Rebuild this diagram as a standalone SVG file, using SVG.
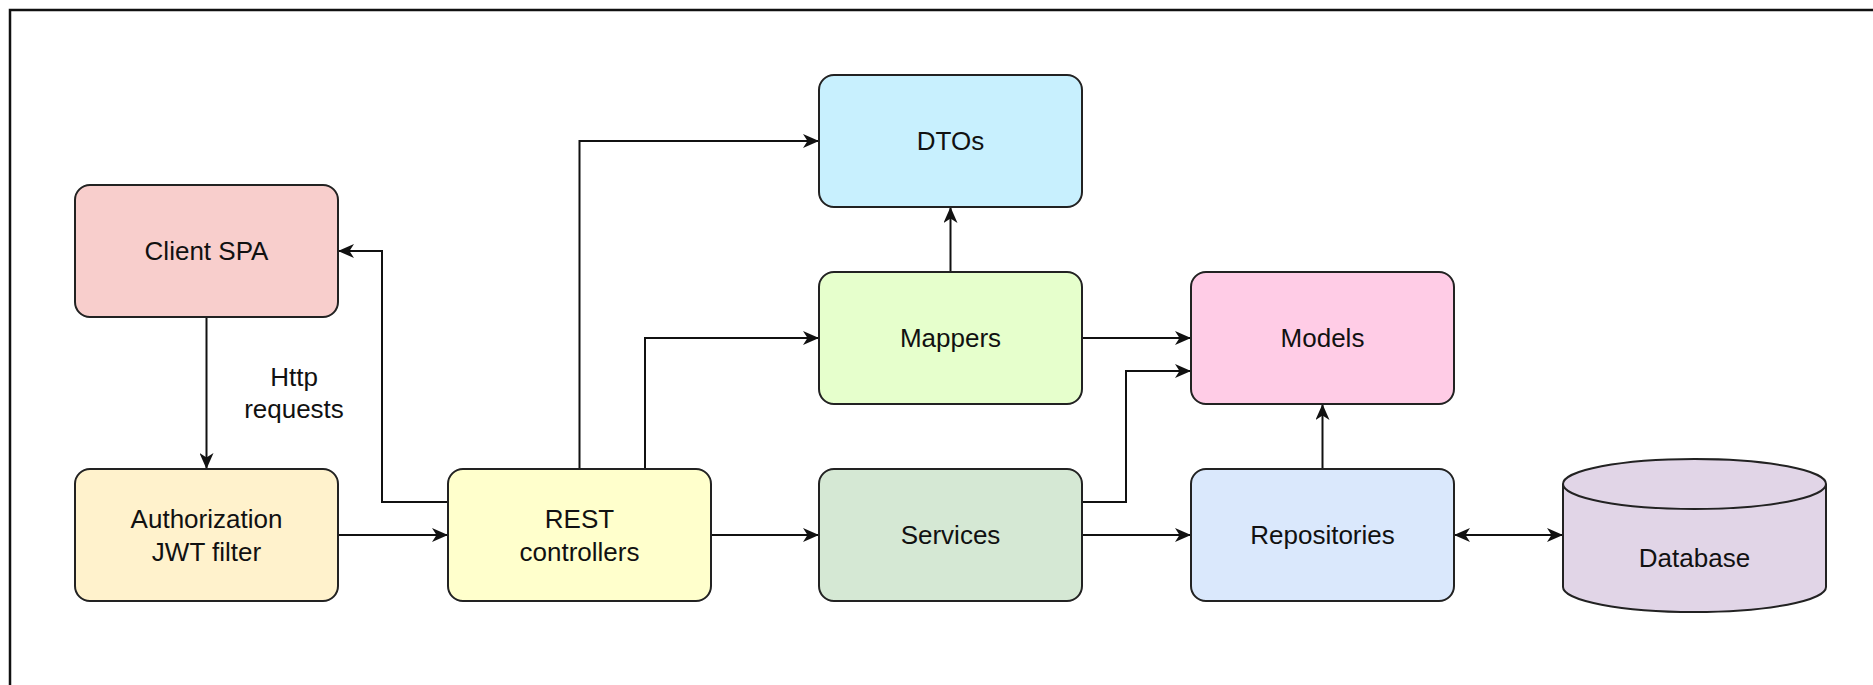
<svg xmlns="http://www.w3.org/2000/svg" width="1873" height="685" viewBox="0 0 1873 685">
<style>
.node{stroke:#222;stroke-width:2}
.lbl{font-family:"Liberation Sans",Arial,Helvetica,sans-serif;font-size:26px;fill:#111;text-anchor:middle}
.edge{fill:none;stroke:#111;stroke-width:2}
</style>
<defs>
<marker id="arr" viewBox="0 0 16 14" refX="16" refY="7" markerWidth="16" markerHeight="14" markerUnits="userSpaceOnUse" orient="auto-start-reverse">
<path d="M0,0 L16,7 L0,14 L4.5,7 Z" fill="#111"/>
</marker>
</defs>
<rect width="1873" height="685" fill="#fff"/>
<rect x="10" y="10" width="1900" height="720" fill="none" stroke="#111" stroke-width="2.5"/>
<g id="connectors">
<path class="edge" d="M206.5,317 L206.5,469" marker-end="url(#arr)"/>
<path class="edge" d="M338,535 L448,535" marker-end="url(#arr)"/>
<path class="edge" d="M448,502 L382,502 L382,251 L338,251" marker-end="url(#arr)"/>
<path class="edge" d="M579.5,469 L579.5,141 L819,141" marker-end="url(#arr)"/>
<path class="edge" d="M645,469 L645,338 L819,338" marker-end="url(#arr)"/>
<path class="edge" d="M711,535 L819,535" marker-end="url(#arr)"/>
<path class="edge" d="M950.5,272 L950.5,207" marker-end="url(#arr)"/>
<path class="edge" d="M1082,338 L1191,338" marker-end="url(#arr)"/>
<path class="edge" d="M1082,502 L1126,502 L1126,371 L1191,371" marker-end="url(#arr)"/>
<path class="edge" d="M1082,535 L1191,535" marker-end="url(#arr)"/>
<path class="edge" d="M1322.5,469 L1322.5,404" marker-end="url(#arr)"/>
<path class="edge" d="M1454,535 L1563,535" marker-start="url(#arr)" marker-end="url(#arr)"/>
<text class="lbl" x="294" y="386">Http</text>
<text class="lbl" x="294" y="418">requests</text>
</g>
<g id="client-spa">
<rect class="node" x="75" y="185" width="263" height="132" rx="15" fill="#f8cecc"/>
<text class="lbl" x="206.5" y="260">Client SPA</text>
</g>
<g id="auth-filter">
<rect class="node" x="75" y="469" width="263" height="132" rx="15" fill="#fff2cc"/>
<text class="lbl" x="206.5" y="528">Authorization</text>
<text class="lbl" x="206.5" y="561">JWT filter</text>
</g>
<g id="rest-controllers">
<rect class="node" x="448" y="469" width="263" height="132" rx="15" fill="#ffffcc"/>
<text class="lbl" x="579.5" y="528">REST</text>
<text class="lbl" x="579.5" y="561">controllers</text>
</g>
<g id="dtos">
<rect class="node" x="819" y="75" width="263" height="132" rx="15" fill="#c8f0fe"/>
<text class="lbl" x="950.5" y="150">DTOs</text>
</g>
<g id="mappers">
<rect class="node" x="819" y="272" width="263" height="132" rx="15" fill="#e6ffcc"/>
<text class="lbl" x="950.5" y="347">Mappers</text>
</g>
<g id="services">
<rect class="node" x="819" y="469" width="263" height="132" rx="15" fill="#d5e8d4"/>
<text class="lbl" x="950.5" y="544">Services</text>
</g>
<g id="models">
<rect class="node" x="1191" y="272" width="263" height="132" rx="15" fill="#ffcce6"/>
<text class="lbl" x="1322.5" y="347">Models</text>
</g>
<g id="repositories">
<rect class="node" x="1191" y="469" width="263" height="132" rx="15" fill="#dae8fc"/>
<text class="lbl" x="1322.5" y="544">Repositories</text>
</g>
<g id="database">
<path class="node" d="M1563,484 A131.5,25 0 0 1 1826,484 L1826,587 A131.5,25 0 0 1 1563,587 Z" fill="#e1d5e7"/>
<path class="node" d="M1563,484 A131.5,25 0 0 0 1826,484" fill="none"/>
<text class="lbl" x="1694.5" y="567">Database</text>
</g>
</svg>
